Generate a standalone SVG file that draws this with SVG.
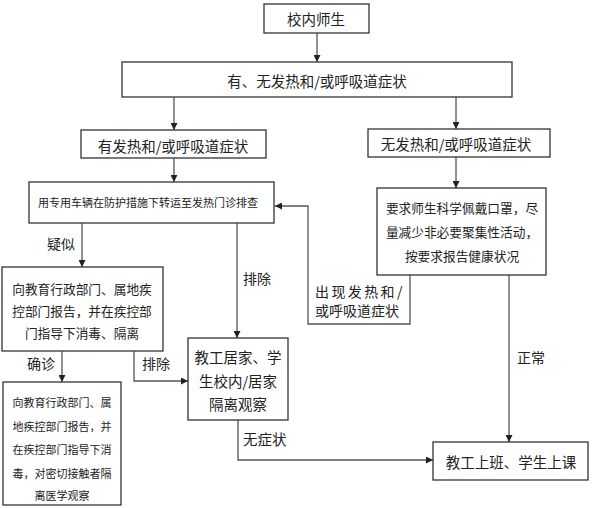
<svg xmlns="http://www.w3.org/2000/svg" width="594" height="508" viewBox="0 0 594 508">
<defs>
<marker id="ah" viewBox="0 0 10 10" refX="10" refY="5" markerWidth="7" markerHeight="7" markerUnits="userSpaceOnUse" orient="auto">
<path d="M0,0 L10,5 L0,10 Z" fill="#222"/>
</marker>
<style>
.box{fill:#fff;stroke:#333;stroke-width:1.3}
.c{fill:none;stroke:#555;stroke-width:1.3;marker-end:url(#ah)}
.cn{fill:none;stroke:#555;stroke-width:1.3}
text{font-family:"Noto Sans CJK SC","Liberation Sans",sans-serif;fill:#222;text-anchor:middle;dominant-baseline:central}
.t15{font-size:14.5px}
.t13{font-size:12.7px}
.t11{font-size:11px}
.lbl{font-size:14px;text-anchor:start}
</style>
</defs>
<g id="connectors">
<path class="c" d="M317,33 V62"/>
<path class="c" d="M174,97 V130"/>
<path class="c" d="M456,97 V129"/>
<path class="c" d="M174,158 V182"/>
<path class="c" d="M456,157 V188"/>
<path class="c" d="M82,223 V267"/>
<path class="c" d="M237,223 V338"/>
<path class="c" d="M62,351 V382"/>
<path class="c" d="M134,351 V381 H188"/>
<path class="c" d="M410,275 V324 H308 V206 H275"/>
<path class="c" d="M509,275 V442"/>
<path class="c" d="M238,420 V460 H433"/>
<text class="lbl" x="47" y="243">疑似</text>
<text class="lbl" x="243" y="278">排除</text>
<text class="lbl" x="27" y="363">确诊</text>
<text class="lbl" x="142" y="363">排除</text>
<text class="lbl" x="315" y="291" style="letter-spacing:2.4px">出现发热和/</text>
<text class="lbl" x="315" y="310">或呼吸道症状</text>
<text class="lbl" x="243" y="438" style="font-size:14.5px">无症状</text>
<text class="lbl" x="517" y="357">正常</text>
</g>
<g id="n1"><rect class="box" x="264" y="4" width="105" height="29"/><text class="t15" x="316" y="18">校内师生</text></g>
<g id="n2"><rect class="box" x="122" y="62" width="390" height="35"/><text class="t15" x="317" y="80">有、无发热和/或呼吸道症状</text></g>
<g id="n3"><rect class="box" x="81" y="130" width="185" height="28"/><text class="t15" x="173" y="145">有发热和/或呼吸道症状</text></g>
<g id="n4"><rect class="box" x="368" y="129" width="182" height="28"/><text class="t15" x="456" y="143">无发热和/或呼吸道症状</text></g>
<g id="n5"><rect class="box" x="29" y="182" width="245" height="41"/><text class="t11" x="148" y="202">用专用车辆在防护措施下转运至发热门诊排查</text></g>
<g id="n6"><rect class="box" x="377" y="188" width="169" height="87"/>
<text class="t13" x="462" y="207">要求师生科学佩戴口罩，尽</text>
<text class="t13" x="462" y="231">量减少非必要聚集性活动，</text>
<text class="t13" x="462" y="255">按要求报告健康状况</text></g>
<g id="n7"><rect class="box" x="2" y="267" width="161" height="84"/>
<text class="t13" x="82" y="288">向教育行政部门、属地疾</text>
<text class="t13" x="82" y="310">控部门报告，并在疾控部</text>
<text class="t13" x="82" y="332">门指导下消毒、隔离</text></g>
<g id="n8"><rect class="box" x="188" y="338" width="100" height="82"/>
<text class="t15" x="238" y="356">教工居家、学</text>
<text class="t15" x="238" y="380">生校内/居家</text>
<text class="t15" x="238" y="403">隔离观察</text></g>
<g id="n9"><rect class="box" x="3" y="382" width="118" height="123"/>
<text class="t11" x="62" y="402">向教育行政部门、属</text>
<text class="t11" x="62" y="426">地疾控部门报告，并</text>
<text class="t11" x="62" y="449">在疾控部门指导下消</text>
<text class="t11" x="62" y="473">毒，对密切接触者隔</text>
<text class="t11" x="62" y="495">离医学观察</text></g>
<g id="n10"><rect class="box" x="433" y="442" width="155" height="38"/><text class="t15" x="511" y="461">教工上班、学生上课</text></g>
</svg>
